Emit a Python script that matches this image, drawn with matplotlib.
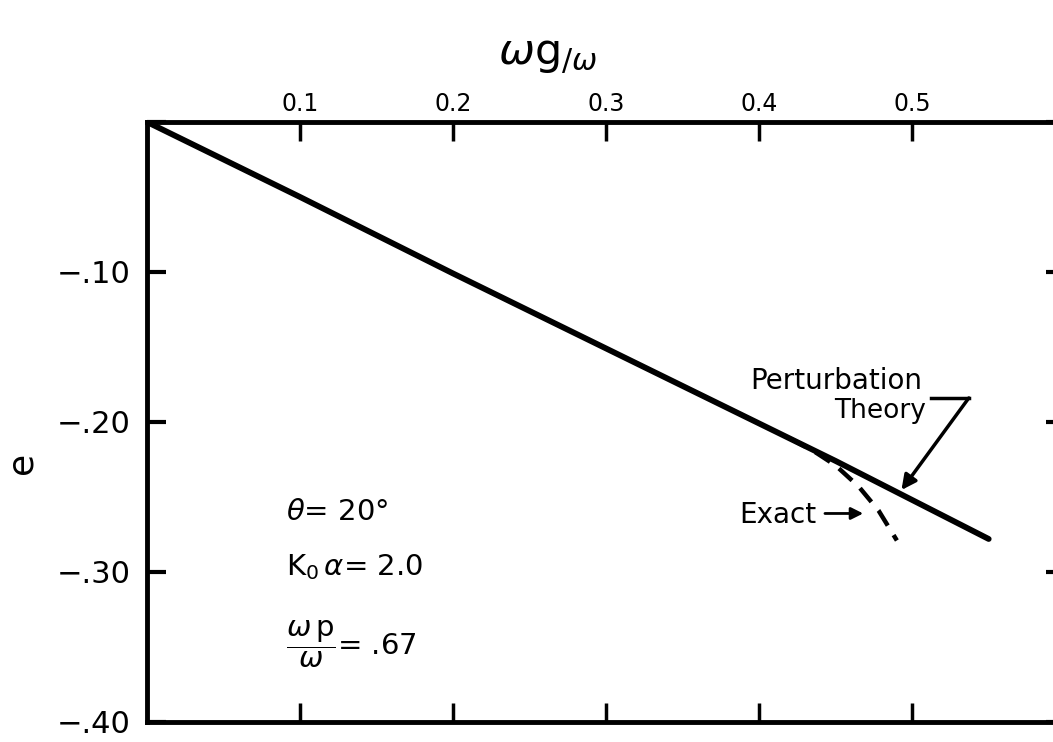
import numpy as np
import matplotlib
matplotlib.use('Agg')
import matplotlib.pyplot as plt

# 섭동 이론 곡선 (ωg/ω 에 대한 e)
x_pert = [0.0, 0.1, 0.2, 0.3, 0.4, 0.45, 0.5, 0.55]
e_pert = [0.0, -0.050, -0.101, -0.151, -0.201, -0.226, -0.252, -0.278]

# 정확해 (0.42 부근에서 갈라짐)
x_exact = [0.42, 0.435, 0.45, 0.465, 0.478, 0.49]
e_exact = [-0.211, -0.219, -0.229, -0.243, -0.259, -0.279]

x_ticks = [0.1, 0.2, 0.3, 0.4, 0.5]
x_labels = ['0.1', '0.2', '0.3', '0.4', '0.5']
y_ticks = [0.0, -0.10, -0.20, -0.30, -0.40]
y_labels = ['', '\u2212.10', '\u2212.20', '\u2212.30', '\u2212.40']

plt.rcParams['font.family'] = ['DejaVu Sans']
plt.rcParams['mathtext.fontset'] = 'dejavusans'

fig = plt.figure(figsize=(10.53, 7.42), dpi=100)
ax = fig.add_axes([0.1396, 0.027, 0.872, 0.8086])

ax.plot(x_pert, e_pert, color='black', lw=4.2, solid_capstyle='round')
ax.plot(x_exact, e_exact, color='black', lw=3.2, linestyle=(0, (4, 2.5)))

ax.set_xlim(0, 0.6)
ax.set_ylim(-0.40, 0.0)

# 눈금: 안쪽 방향, x 라벨은 위쪽
ax.set_xticks(x_ticks)
ax.set_xticklabels(x_labels)
ax.set_yticks(y_ticks)
ax.set_yticklabels(y_labels)
ax.tick_params(axis='x', direction='in', top=True, bottom=True,
               labeltop=True, labelbottom=False, length=14, width=2.5,
               labelsize=17, pad=4)
ax.tick_params(axis='y', direction='in', left=True, right=True,
               length=14, width=3, labelsize=22, pad=12)
for s in ax.spines.values():
    s.set_linewidth(3.5)

# 축 제목
fig.text(0.52, 0.925, r'$\omega\mathrm{g}_{/\omega}$', fontsize=31,
         ha='center', va='center')
fig.text(0.02, 0.376, 'e', fontsize=26, rotation=90, ha='center', va='center')

# 파라미터 표기
ax.text(0.091, -0.260, r'$\theta$= 20°', fontsize=21, va='center')
ax.text(0.091, -0.297, r'K$_0\,\alpha$= 2.0', fontsize=21, va='center')
ax.text(0.091, -0.348, r'$\dfrac{\omega\,\mathrm{p}}{\omega}$= .67', fontsize=21,
        va='center')

# 곡선 설명과 화살표
ax.text(0.394, -0.173, 'Perturbation', fontsize=20, va='center')
ax.text(0.449, -0.193, 'Theory', fontsize=19, va='center')
tip_x = 0.493
tip_y = np.interp(tip_x, x_pert, e_pert)
ax.plot([0.512, 0.537], [-0.184, -0.184], color='black', lw=2.5)
ax.annotate('', xy=(tip_x, tip_y + 0.003), xytext=(0.537, -0.184),
            arrowprops=dict(arrowstyle='-|>', color='black', lw=2.5,
                            mutation_scale=22, shrinkA=0, shrinkB=0))

ax.text(0.387, -0.262, 'Exact', fontsize=20, va='center')
ex_x = 0.468
ax.annotate('', xy=(ex_x, -0.261), xytext=(0.443, -0.261),
            arrowprops=dict(arrowstyle='-|>', color='black', lw=2,
                            mutation_scale=18, shrinkA=0, shrinkB=0))

fig.savefig('out.png', dpi=100)
